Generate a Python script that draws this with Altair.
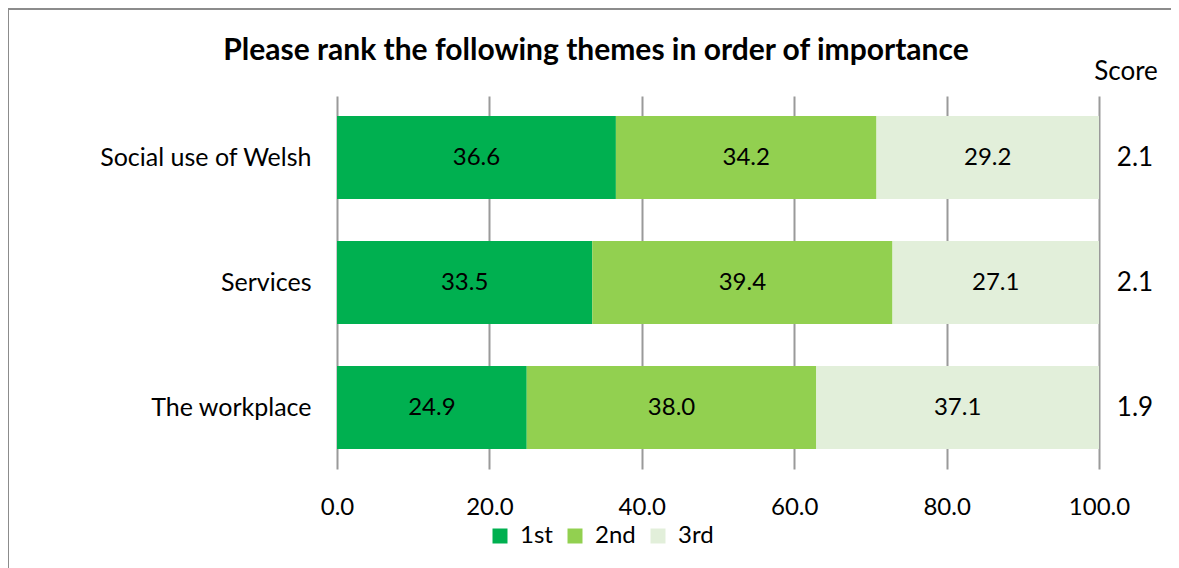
import altair as alt
import pandas as pd

categories = ["Social use of Welsh", "Services", "The workplace"]
ranks = ["1st", "2nd", "3rd"]
first = [36.6, 33.5, 24.9]
second = [34.2, 39.4, 38.0]
third = [29.2, 27.1, 37.1]
scores = [2.1, 2.1, 1.9]
x_ticks = [0, 20, 40, 60, 80, 100]
colors = ["#00B050", "#92D050", "#E2EFDA"]
title_text = "Please rank the following themes in order of importance"

FONT = "Lato"

rows = []
for i, c in enumerate(categories):
    for j, (r, vals) in enumerate(zip(ranks, [first, second, third])):
        rows.append({"category": c, "rank": r, "order": j, "value": vals[i]})
df = pd.DataFrame(rows)
score_df = pd.DataFrame({"category": categories, "score": scores})
head_df = pd.DataFrame({"t": ["Score"]})
title_df = pd.DataFrame({"t": [title_text]})

yscale = alt.Scale(domain=categories, paddingInner=0.336, paddingOuter=0.16)
xscale = alt.Scale(domain=[0, 100], nice=False)

base = alt.Chart(df).transform_stack(
    stack="value", as_=["x0", "x1"], groupby=["category"],
    sort=[alt.SortField("order", order="ascending")]
).transform_calculate(mid="(datum.x0 + datum.x1) / 2")

bars = base.mark_bar().encode(
    y=alt.Y("category:N", scale=yscale, sort=categories,
            axis=alt.Axis(title=None, ticks=False, domain=False, grid=False,
                          labelFontSize=25, labelFont=FONT, labelColor="#000000",
                          labelPadding=26, labelLimit=500)),
    x=alt.X("x0:Q", scale=xscale,
            axis=alt.Axis(title=None, values=x_ticks, format=".1f", grid=True,
                          gridColor="#9a9a9a", gridWidth=2, ticks=False, domain=False,
                          labelFontSize=24, labelFont=FONT, labelColor="#000000",
                          labelPadding=26, labelFlush=False)),
    x2="x1:Q",
    color=alt.Color("rank:N", scale=alt.Scale(domain=ranks, range=colors),
                    legend=alt.Legend(title=None, orient="none", legendX=151, legendY=428,
                                      direction="horizontal", symbolType="square",
                                      symbolSize=225, symbolStrokeWidth=0,
                                      labelFontSize=24, labelFont=FONT,
                                      labelColor="#000000", labelOffset=8,
                                      columnPadding=10)),
)

labels = base.mark_text(fontSize=24, font=FONT, color="#000000").encode(
    y=alt.Y("category:N", scale=yscale, sort=categories),
    x=alt.X("mid:Q", scale=xscale),
    text=alt.Text("value:Q", format=".1f"),
)

score_text = alt.Chart(score_df).mark_text(fontSize=26, font=FONT, color="#000000",
                                           align="center").encode(
    y=alt.Y("category:N", scale=yscale, sort=categories),
    x=alt.value(798),
    text=alt.Text("score:Q", format=".1f"),
)

score_head = alt.Chart(head_df).mark_text(fontSize=26, font=FONT, color="#000000",
                                          align="center", baseline="middle").encode(
    x=alt.value(789), y=alt.value(-24), text="t:N",
)

title_mark = alt.Chart(title_df).mark_text(fontSize=30, font=FONT, fontWeight="bold",
                                           color="#000000", align="center",
                                           baseline="alphabetic").encode(
    x=alt.value(259), y=alt.value(-36), text="t:N",
)

border_left = alt.Chart(head_df).mark_rule(color="#8c8c8c", strokeWidth=2).encode(
    x=alt.value(-329), y=alt.value(-88), y2=alt.value(500),
)
border_top = alt.Chart(head_df).mark_rule(color="#8c8c8c", strokeWidth=2).encode(
    x=alt.value(-330), x2=alt.value(900), y=alt.value(-87),
)

chart = alt.layer(bars, labels, score_text, score_head, title_mark,
                  border_left, border_top).properties(
    width=762, height=373,
    padding={"left": 329, "top": 88, "right": 72, "bottom": 99},
    autosize=alt.AutoSizeParams(type="none"),
).configure_view(stroke=None)

chart.save("out.html", embed_options={"renderer": "svg", "actions": False})
